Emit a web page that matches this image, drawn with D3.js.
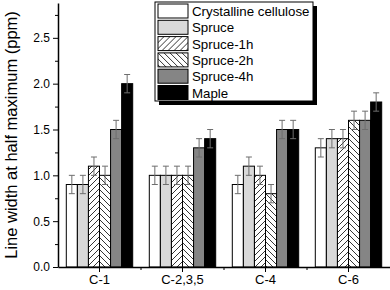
<!DOCTYPE html>
<html>
<head>
<meta charset="utf-8">
<script src="https://cdn.jsdelivr.net/npm/d3@7"></script>
<style>
    body { margin: 0; background: #fff; }
    svg { display: block; font-family: "Liberation Sans", Arial, sans-serif; }
</style>
</head>
<body>
<svg id="chart" width="390" height="290"></svg>
<script>
// categories and series
const categories = ['C-1', 'C-2,3,5', 'C-4', 'C-6'];
const series = ['Crystalline cellulose', 'Spruce', 'Spruce-1h', 'Spruce-2h', 'Spruce-4h', 'Maple'];

// line width values (ppm), one array per series, in category order
const crystalline = [0.9, 1.0, 0.9, 1.3];
const spruce      = [0.9, 1.0, 1.1, 1.4];
const spruce1h    = [1.1, 1.0, 1.0, 1.4];
const spruce2h    = [1.0, 1.0, 0.8, 1.6];
const spruce4h    = [1.5, 1.3, 1.5, 1.6];
const maple       = [2.0, 1.4, 1.5, 1.8];
const errors      = [0.1, 0.1, 0.1, 0.1];

const yTicks = [0, 0.5, 1.0, 1.5, 2.0, 2.5];

const values = [crystalline, spruce, spruce1h, spruce2h, spruce4h, maple];
const fills = ['#ffffff', '#d9d9d9', 'url(#hatch1)', 'url(#hatch2)', '#858585', '#000000'];

const width = 390, height = 290;
const margin = {top: 3, left: 58, right: 0, bottom: 23};

const svg = d3.select('#chart');

// hatch patterns
let defs = svg.append('defs');
function addHatch(id, dir) {
    let p = defs.append('pattern')
        .attr('id', id)
        .attr('patternUnits', 'userSpaceOnUse')
        .attr('width', 6)
        .attr('height', 6);
    p.append('rect').attr('width', 6).attr('height', 6).attr('fill', '#fff');
    let d = dir > 0
        ? 'M-1,1 l2,-2 M0,6 l6,-6 M5,7 l2,-2'
        : 'M-1,5 l2,2 M0,0 l6,6 M5,-1 l2,2';
    p.append('path').attr('d', d).attr('stroke', '#000').attr('stroke-width', 0.8);
}
addHatch('hatch1', 1);
addHatch('hatch2', -1);

// scales
let x = d3.scaleBand()
    .domain(categories)
    .range([margin.left, width - margin.right])
    .paddingInner(0.2)
    .paddingOuter(0.1);

let xs = d3.scaleBand()
    .domain(series)
    .range([0, x.bandwidth()]);

let y = d3.scaleLinear()
    .domain([0, 2.88])
    .range([height - margin.bottom, margin.top]);

// bars
let rows = [];
categories.forEach(function(c, ci) {
    series.forEach(function(s, si) {
        rows.push({cat: c, s: s, si: si, v: values[si][ci], e: errors[ci]});
    });
});

let g = svg.append('g');
g.selectAll('rect.bar')
    .data(rows)
    .join('rect')
    .classed('bar', true)
    .attr('x', d => x(d.cat) + xs(d.s))
    .attr('y', d => y(d.v))
    .attr('width', xs.bandwidth())
    .attr('height', d => y(0) - y(d.v))
    .attr('fill', d => fills[d.si])
    .attr('stroke', '#000')
    .attr('stroke-width', 1);

// error bars
let eb = g.selectAll('g.err')
    .data(rows)
    .join('g')
    .classed('err', true)
    .attr('stroke', '#6e6e6e')
    .attr('stroke-width', 1);
eb.append('line')
    .attr('x1', d => x(d.cat) + xs(d.s) + xs.bandwidth() / 2)
    .attr('x2', d => x(d.cat) + xs(d.s) + xs.bandwidth() / 2)
    .attr('y1', d => y(d.v + d.e))
    .attr('y2', d => y(d.v - d.e));
[1, -1].forEach(function(sign) {
    eb.append('line')
        .attr('x1', d => x(d.cat) + xs(d.s) + xs.bandwidth() / 2 - 3)
        .attr('x2', d => x(d.cat) + xs(d.s) + xs.bandwidth() / 2 + 3)
        .attr('y1', d => y(d.v + sign * d.e))
        .attr('y2', d => y(d.v + sign * d.e));
});

// y axis
let yAxis = svg.append('g')
    .attr('transform', `translate(${margin.left},0)`)
    .call(d3.axisLeft(y).tickValues(yTicks).tickFormat(d3.format('.1f')).tickSize(5).tickSizeOuter(0).tickPadding(3));
svg.append('g')
    .attr('transform', `translate(${margin.left},0)`)
    .call(d3.axisLeft(y).tickValues([0.25, 0.75, 1.25, 1.75, 2.25, 2.75]).tickFormat('').tickSize(3).tickSizeOuter(0))
    .select('.domain').remove();
yAxis.selectAll('text').attr('font-size', 12).attr('fill', '#000').attr('font-family', '"Liberation Sans", Arial, sans-serif');
yAxis.select('.domain').attr('stroke-width', 1.5);

// x axis
let xAxis = svg.append('g')
    .attr('transform', `translate(0,${height - margin.bottom})`)
    .call(d3.axisBottom(x).tickSize(5).tickSizeOuter(0).tickPadding(3));
xAxis.selectAll('text').attr('font-size', 13).attr('fill', '#000').attr('font-family', '"Liberation Sans", Arial, sans-serif');
xAxis.select('.domain').attr('stroke-width', 1.5);
// minor ticks between groups
xAxis.selectAll('line.minor')
    .data(categories.slice(1))
    .join('line')
    .classed('minor', true)
    .attr('x1', d => x(d) - x.step() * x.paddingInner() / 2)
    .attr('x2', d => x(d) - x.step() * x.paddingInner() / 2)
    .attr('y1', 0)
    .attr('y2', 3)
    .attr('stroke', '#000');

// y label
svg.append('text')
    .attr('transform', `translate(17,${(margin.top + height - margin.bottom) / 2}) rotate(-90)`)
    .attr('text-anchor', 'middle')
    .attr('font-size', 16.5)
    .text('Line width at half maximum (ppm)');

// legend
let lx = 155, ly = 2, lw = 158, lh = 99, rowh = 16.3;
svg.append('rect')
    .attr('x', lx + 4).attr('y', ly + 4)
    .attr('width', lw).attr('height', lh)
    .attr('fill', '#000');
svg.append('rect')
    .attr('x', lx).attr('y', ly)
    .attr('width', lw).attr('height', lh)
    .attr('fill', '#fff')
    .attr('stroke', '#000')
    .attr('stroke-width', 1);
let items = svg.selectAll('g.legend')
    .data(series)
    .join('g')
    .classed('legend', true)
    .attr('transform', (d, i) => `translate(${lx + 3},${ly + 2 + i * rowh})`);
items.append('rect')
    .attr('width', 30).attr('height', 14)
    .attr('fill', (d, i) => fills[i])
    .attr('stroke', '#000');
items.append('text')
    .attr('x', 34).attr('y', 12)
    .attr('font-size', 13.3)
    .text(d => d);
</script>
</body>
</html>
